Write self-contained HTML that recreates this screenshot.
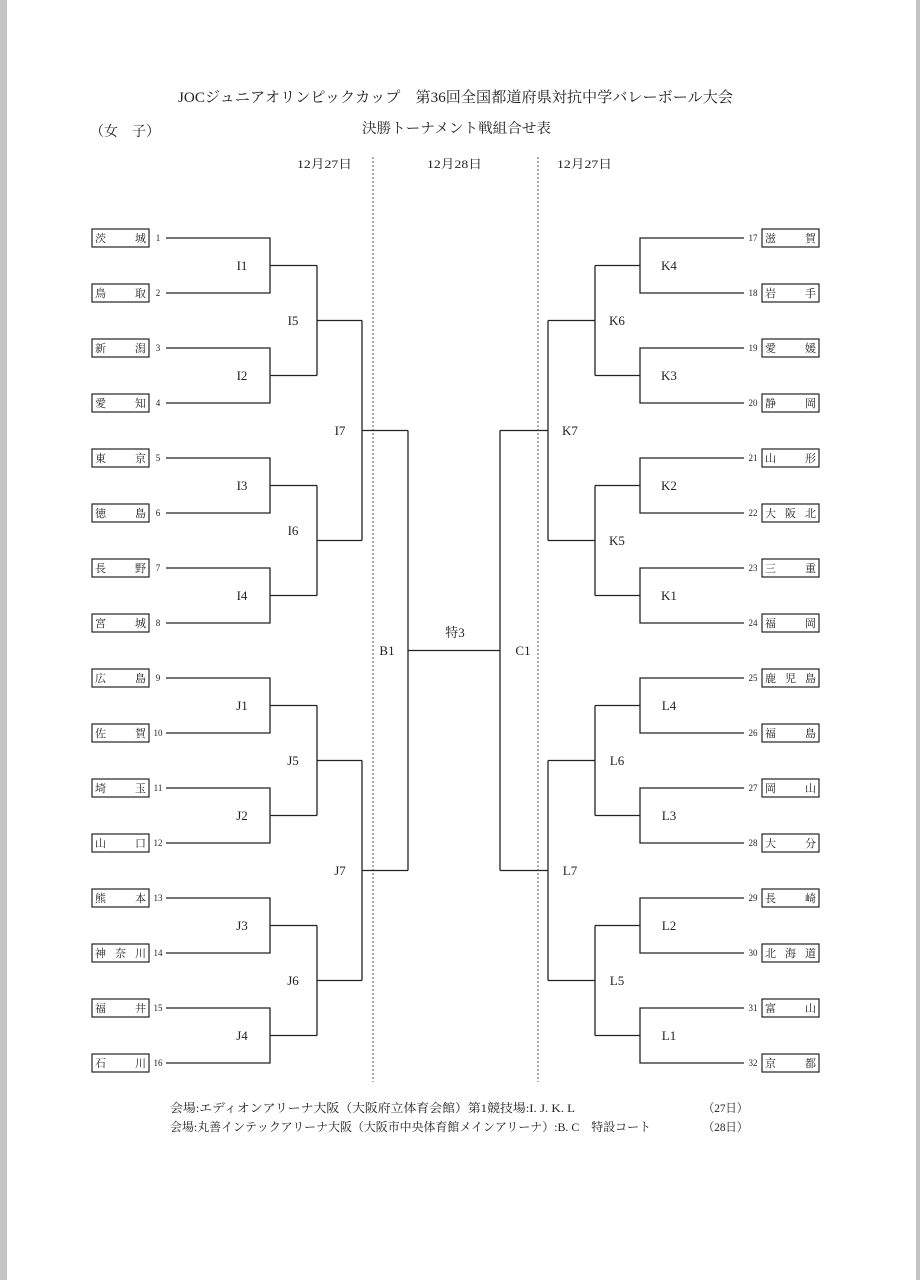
<!DOCTYPE html>
<html><head><meta charset="utf-8"><style>
html,body{margin:0;padding:0;background:#fff}
body{width:920px;height:1280px;overflow:hidden}
svg{display:block}
text{font-family:"Liberation Serif","Noto Serif CJK SC",serif;fill:#222}
.n{font-size:11px}.s{font-size:9px}.l{font-size:13px}
</style></head><body>
<svg width="920" height="1280" viewBox="0 0 920 1280">
<rect x="0" y="0" width="7" height="1280" fill="#c4c4c4"/>
<rect x="916" y="0" width="4" height="1280" fill="#c4c4c4"/>
<text x="178" y="102" font-size="15" textLength="555" lengthAdjust="spacingAndGlyphs">JOCジュニアオリンピックカップ　第36回全国都道府県対抗中学バレーボール大会</text>
<text x="362" y="133" font-size="14" textLength="189" lengthAdjust="spacingAndGlyphs">決勝トーナメント戦組合せ表</text>
<text x="90" y="136" font-size="14">（女　子）</text>
<text x="297" y="168" font-size="12" textLength="55" lengthAdjust="spacingAndGlyphs">12月27日</text>
<text x="427" y="168" font-size="12" textLength="55" lengthAdjust="spacingAndGlyphs">12月28日</text>
<text x="557" y="168" font-size="12" textLength="55" lengthAdjust="spacingAndGlyphs">12月27日</text>
<line x1="373" y1="157" x2="373" y2="1082" stroke="#555" stroke-dasharray="2,2"/>
<line x1="538" y1="157" x2="538" y2="1082" stroke="#555" stroke-dasharray="2,2"/>
<g fill="none" stroke="#222" stroke-width="1.3">
<path d="M166 238H270V293H166M270 265.5H317M166 348H270V403H166M270 375.5H317M166 458H270V513H166M270 485.5H317M166 568H270V623H166M270 595.5H317M166 678H270V733H166M270 705.5H317M166 788H270V843H166M270 815.5H317M166 898H270V953H166M270 925.5H317M166 1008H270V1063H166M270 1035.5H317"/>
<path d="M317 265.5V375.5M317 320.5H362M317 485.5V595.5M317 540.5H362M317 705.5V815.5M317 760.5H362M317 925.5V1035.5M317 980.5H362"/>
<path d="M362 320.5V540.5M362 430.5H408M362 760.5V980.5M362 870.5H408M408 430.5V870.5M408 650.5H500"/>
<path d="M744 238H640V293H744M640 265.5H595M744 348H640V403H744M640 375.5H595M744 458H640V513H744M640 485.5H595M744 568H640V623H744M640 595.5H595M744 678H640V733H744M640 705.5H595M744 788H640V843H744M640 815.5H595M744 898H640V953H744M640 925.5H595M744 1008H640V1063H744M640 1035.5H595"/>
<path d="M595 265.5V375.5M595 320.5H548M595 485.5V595.5M595 540.5H548M595 705.5V815.5M595 760.5H548M595 925.5V1035.5M595 980.5H548"/>
<path d="M548 320.5V540.5M548 430.5H500M548 760.5V980.5M548 870.5H500M500 430.5V870.5"/>
</g>
<g fill="none" stroke="#222" stroke-width="1.2">
<rect x="92" y="229" width="57" height="18"/><rect x="92" y="284" width="57" height="18"/><rect x="92" y="339" width="57" height="18"/><rect x="92" y="394" width="57" height="18"/><rect x="92" y="449" width="57" height="18"/><rect x="92" y="504" width="57" height="18"/><rect x="92" y="559" width="57" height="18"/><rect x="92" y="614" width="57" height="18"/><rect x="92" y="669" width="57" height="18"/><rect x="92" y="724" width="57" height="18"/><rect x="92" y="779" width="57" height="18"/><rect x="92" y="834" width="57" height="18"/><rect x="92" y="889" width="57" height="18"/><rect x="92" y="944" width="57" height="18"/><rect x="92" y="999" width="57" height="18"/><rect x="92" y="1054" width="57" height="18"/>
<rect x="762" y="229" width="57" height="18"/><rect x="762" y="284" width="57" height="18"/><rect x="762" y="339" width="57" height="18"/><rect x="762" y="394" width="57" height="18"/><rect x="762" y="449" width="57" height="18"/><rect x="762" y="504" width="57" height="18"/><rect x="762" y="559" width="57" height="18"/><rect x="762" y="614" width="57" height="18"/><rect x="762" y="669" width="57" height="18"/><rect x="762" y="724" width="57" height="18"/><rect x="762" y="779" width="57" height="18"/><rect x="762" y="834" width="57" height="18"/><rect x="762" y="889" width="57" height="18"/><rect x="762" y="944" width="57" height="18"/><rect x="762" y="999" width="57" height="18"/><rect x="762" y="1054" width="57" height="18"/>
</g>
<g class="n">
<text x="95" y="242">茨</text><text x="146" y="242" text-anchor="end">城</text>
<text x="95" y="297">鳥</text><text x="146" y="297" text-anchor="end">取</text>
<text x="95" y="352">新</text><text x="146" y="352" text-anchor="end">潟</text>
<text x="95" y="407">愛</text><text x="146" y="407" text-anchor="end">知</text>
<text x="95" y="462">東</text><text x="146" y="462" text-anchor="end">京</text>
<text x="95" y="517">徳</text><text x="146" y="517" text-anchor="end">島</text>
<text x="95" y="572">長</text><text x="146" y="572" text-anchor="end">野</text>
<text x="95" y="627">宮</text><text x="146" y="627" text-anchor="end">城</text>
<text x="95" y="682">広</text><text x="146" y="682" text-anchor="end">島</text>
<text x="95" y="737">佐</text><text x="146" y="737" text-anchor="end">賀</text>
<text x="95" y="792">埼</text><text x="146" y="792" text-anchor="end">玉</text>
<text x="95" y="847">山</text><text x="146" y="847" text-anchor="end">口</text>
<text x="95" y="902">熊</text><text x="146" y="902" text-anchor="end">本</text>
<text x="95" y="957">神</text><text x="120.5" y="957" text-anchor="middle">奈</text><text x="146" y="957" text-anchor="end">川</text>
<text x="95" y="1012">福</text><text x="146" y="1012" text-anchor="end">井</text>
<text x="95" y="1067">石</text><text x="146" y="1067" text-anchor="end">川</text>
<text x="765" y="242">滋</text><text x="816" y="242" text-anchor="end">賀</text>
<text x="765" y="297">岩</text><text x="816" y="297" text-anchor="end">手</text>
<text x="765" y="352">愛</text><text x="816" y="352" text-anchor="end">媛</text>
<text x="765" y="407">静</text><text x="816" y="407" text-anchor="end">岡</text>
<text x="765" y="462">山</text><text x="816" y="462" text-anchor="end">形</text>
<text x="765" y="517">大</text><text x="790.5" y="517" text-anchor="middle">阪</text><text x="816" y="517" text-anchor="end">北</text>
<text x="765" y="572">三</text><text x="816" y="572" text-anchor="end">重</text>
<text x="765" y="627">福</text><text x="816" y="627" text-anchor="end">岡</text>
<text x="765" y="682">鹿</text><text x="790.5" y="682" text-anchor="middle">児</text><text x="816" y="682" text-anchor="end">島</text>
<text x="765" y="737">福</text><text x="816" y="737" text-anchor="end">島</text>
<text x="765" y="792">岡</text><text x="816" y="792" text-anchor="end">山</text>
<text x="765" y="847">大</text><text x="816" y="847" text-anchor="end">分</text>
<text x="765" y="902">長</text><text x="816" y="902" text-anchor="end">崎</text>
<text x="765" y="957">北</text><text x="790.5" y="957" text-anchor="middle">海</text><text x="816" y="957" text-anchor="end">道</text>
<text x="765" y="1012">富</text><text x="816" y="1012" text-anchor="end">山</text>
<text x="765" y="1067">京</text><text x="816" y="1067" text-anchor="end">都</text>
</g>
<g class="s" text-anchor="middle">
<text x="158" y="241">1</text><text x="158" y="296">2</text><text x="158" y="351">3</text><text x="158" y="406">4</text><text x="158" y="461">5</text><text x="158" y="516">6</text><text x="158" y="571">7</text><text x="158" y="626">8</text><text x="158" y="681">9</text><text x="158" y="736">10</text><text x="158" y="791">11</text><text x="158" y="846">12</text><text x="158" y="901">13</text><text x="158" y="956">14</text><text x="158" y="1011">15</text><text x="158" y="1066">16</text>
<text x="753" y="241">17</text><text x="753" y="296">18</text><text x="753" y="351">19</text><text x="753" y="406">20</text><text x="753" y="461">21</text><text x="753" y="516">22</text><text x="753" y="571">23</text><text x="753" y="626">24</text><text x="753" y="681">25</text><text x="753" y="736">26</text><text x="753" y="791">27</text><text x="753" y="846">28</text><text x="753" y="901">29</text><text x="753" y="956">30</text><text x="753" y="1011">31</text><text x="753" y="1066">32</text>
</g>
<g class="l" text-anchor="middle">
<text x="242" y="270">I1</text><text x="242" y="380">I2</text><text x="242" y="490">I3</text><text x="242" y="600">I4</text><text x="242" y="710">J1</text><text x="242" y="820">J2</text><text x="242" y="930">J3</text><text x="242" y="1040">J4</text>
<text x="293" y="325">I5</text><text x="293" y="535">I6</text><text x="293" y="765">J5</text><text x="293" y="985">J6</text>
<text x="340" y="435">I7</text><text x="340" y="875">J7</text>
<text x="387" y="655">B1</text><text x="455" y="637">特3</text><text x="523" y="655">C1</text>
<text x="570" y="435">K7</text><text x="570" y="875">L7</text>
<text x="617" y="325">K6</text><text x="617" y="545">K5</text><text x="617" y="765">L6</text><text x="617" y="985">L5</text>
<text x="669" y="270">K4</text><text x="669" y="380">K3</text><text x="669" y="490">K2</text><text x="669" y="600">K1</text><text x="669" y="710">L4</text><text x="669" y="820">L3</text><text x="669" y="930">L2</text><text x="669" y="1040">L1</text>
</g>
<text x="170" y="1112" font-size="12" textLength="405" lengthAdjust="spacingAndGlyphs">会場:エディオンアリーナ大阪（大阪府立体育会館）第1競技場:I. J. K. L</text>
<text x="703" y="1112" font-size="12" textLength="45" lengthAdjust="spacingAndGlyphs">（27日）</text>
<text x="170" y="1131" font-size="12" textLength="481" lengthAdjust="spacingAndGlyphs">会場:丸善インテックアリーナ大阪（大阪市中央体育館メインアリーナ）:B. C　特設コート</text>
<text x="703" y="1131" font-size="12" textLength="45" lengthAdjust="spacingAndGlyphs">（28日）</text>
</svg>
</body></html>
